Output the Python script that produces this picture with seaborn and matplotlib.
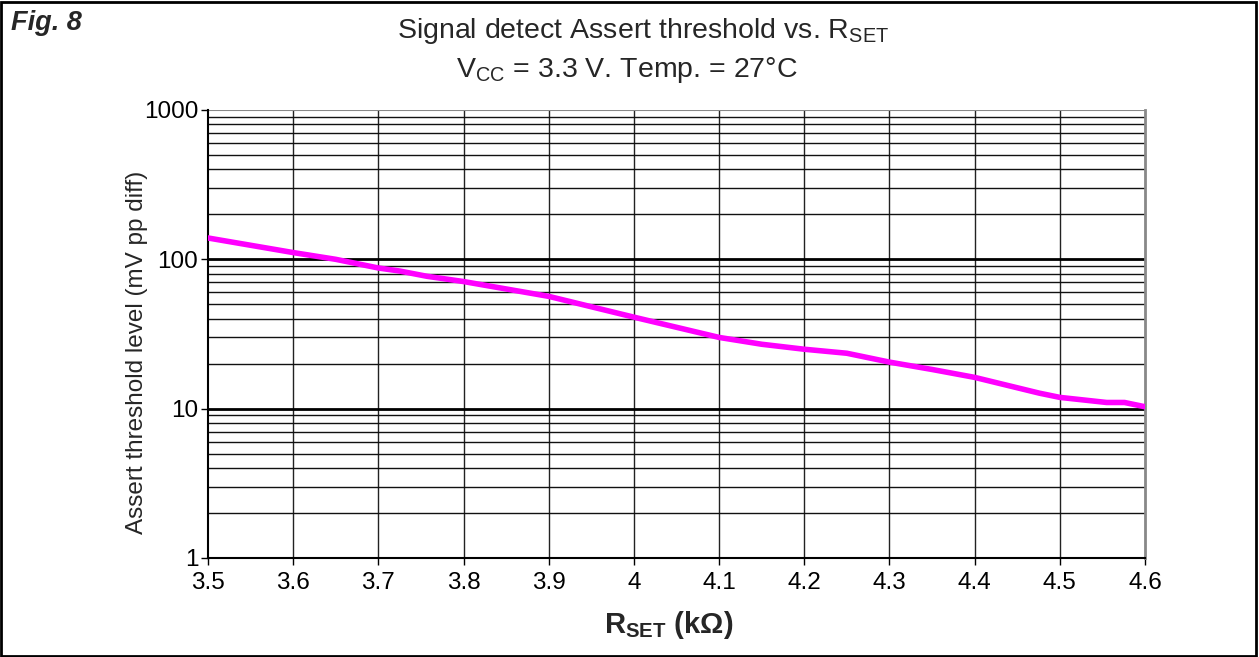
import pandas as pd
import numpy as np
import matplotlib
matplotlib.use("Agg")
import matplotlib.pyplot as plt
import matplotlib.ticker as mticker
import seaborn as sns

# values
rset = [3.50, 3.60, 3.65, 3.70, 3.725, 3.757, 3.80, 3.90, 4.00, 4.10, 4.15, 4.20,
        4.25, 4.30, 4.35, 4.40, 4.476, 4.50, 4.555, 4.576, 4.60]
assert_mv = [139, 111, 100, 87.5, 83.5, 77, 71, 56.5, 41, 30, 27, 25,
             23.5, 20.5, 18.3, 16.2, 12.7, 11.9, 11.0, 11.0, 10.3]
xticks = [3.5, 3.6, 3.7, 3.8, 3.9, 4.0, 4.1, 4.2, 4.3, 4.4, 4.5, 4.6]
xtick_labels = ["3.5", "3.6", "3.7", "3.8", "3.9", "4", "4.1", "4.2", "4.3", "4.4", "4.5", "4.6"]
yticks = [1, 10, 100, 1000]

df = pd.DataFrame({"rset": rset, "mv": assert_mv})

sns.set_style("white")
plt.rcParams['font.family'] = ['Liberation Sans', 'DejaVu Sans']
plt.rcParams['mathtext.fontset'] = 'custom'
plt.rcParams['mathtext.rm'] = 'Liberation Sans'
plt.rcParams['mathtext.bf'] = 'Liberation Sans:bold'

fig = plt.figure(figsize=(12.59, 6.57), dpi=100)
ax = fig.add_axes([208/1259, 1 - 558/657, (1145 - 208)/1259, (558 - 110)/657])

ax.set_yscale("log")
ax.set_xlim(3.5, 4.6)
ax.set_ylim(1, 1000)

# grid: vertical every 0.1, horizontal at log minors, heavier at decades
for xv in xticks[1:-1]:
    ax.axvline(xv, color="#222222", lw=1.0, zorder=1)
for dec in [1, 10, 100]:
    for m in range(2, 10):
        ax.axhline(dec * m, color="#111111", lw=1.0, zorder=1)
for dec in [10, 100]:
    ax.axhline(dec, color="black", lw=2.0, zorder=1)
ax.axhline(1000, color="#888888", lw=1.5, zorder=1)

sns.lineplot(data=df, x="rset", y="mv", ax=ax, color="#ff00ff", lw=4, zorder=3)

ax.set_xticks(xticks)
ax.set_xticklabels(xtick_labels)
ax.yaxis.set_major_locator(mticker.FixedLocator(yticks))
ax.yaxis.set_major_formatter(mticker.FixedFormatter(["1", "10", "100", "1000"]))
ax.yaxis.set_minor_locator(mticker.NullLocator())
ax.tick_params(axis="both", labelsize=17.5, direction="out", length=5, width=1, colors="black")
ax.tick_params(axis="x", pad=5)
ax.tick_params(axis="y", pad=2)
ax.tick_params(bottom=True, left=True)

for s in ["left", "bottom"]:
    ax.spines[s].set_color("black")
    ax.spines[s].set_linewidth(1.5)
ax.spines["right"].set_color("#888888")
ax.spines["right"].set_linewidth(2)
ax.spines["top"].set_visible(False)

ax.set_xlabel("")
ax.set_ylabel("")
fig.text(669/1259, 1 - 633/657, r"$\mathbf{R_{SET}}$ (k$\mathbf{\Omega}$)", ha="center", va="baseline",
         fontsize=21, fontweight="bold")
fig.text(137/1259, 1 - 352/657, "Assert threshold level (mV pp diff)", ha="center", va="center",
         rotation=90, fontsize=17.5)

fig.text(643/1259, 1 - 38/657, r"Signal detect Assert threshold vs. R$_{\mathrm{SET}}$", ha="center", va="baseline", fontsize=20.5)
fig.text(627/1259, 1 - 77/657, r"V$_{\mathrm{CC}}$ = 3.3 V. Temp. = 27°C", ha="center", va="baseline", fontsize=20.5)
fig.text(0.009, 1 - 30/657, "Fig. 8", ha="left", va="baseline", fontsize=19.5, fontweight="bold", style="italic")

fig.patches.append(plt.Rectangle((0.001, 0.002), 0.997, 0.995, transform=fig.transFigure,
                                 fill=False, edgecolor="black", lw=2))

fig.savefig("out.png", dpi=100)
